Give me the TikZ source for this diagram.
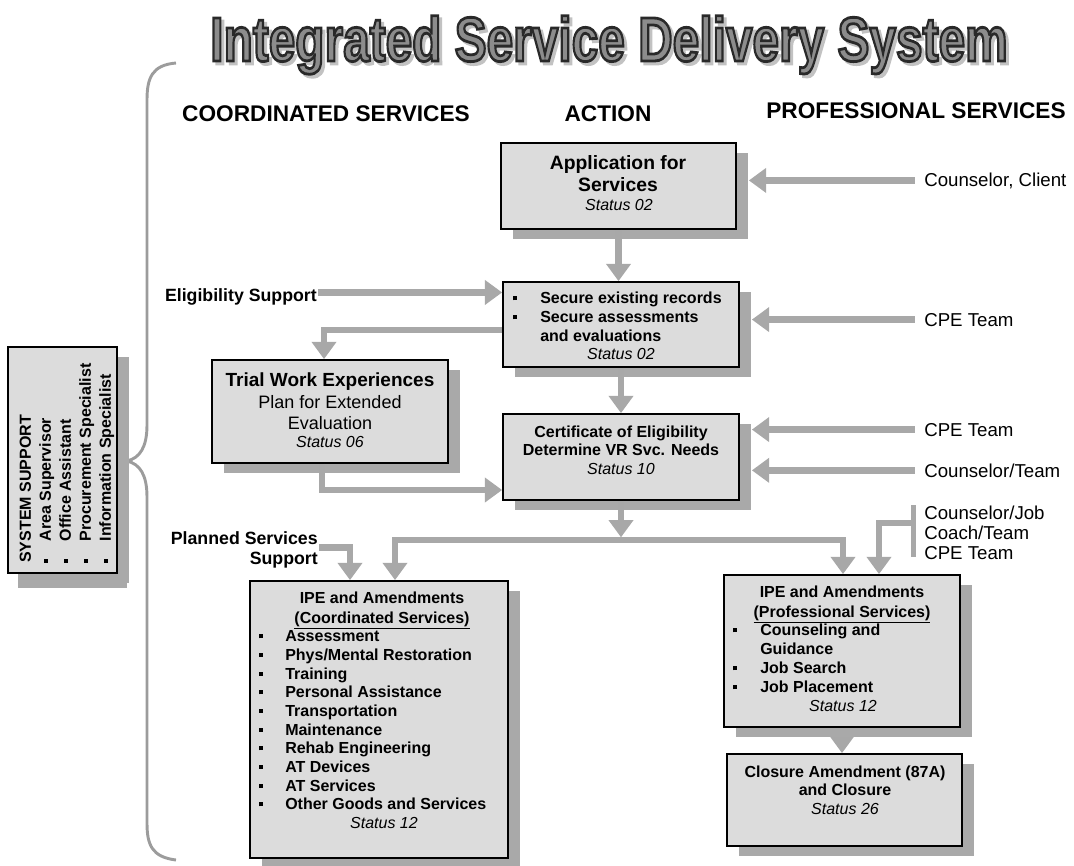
\documentclass[tikz,border=0pt]{standalone}
\usepackage{fontspec}
\usepackage{graphicx}
\setmainfont{Liberation Sans}
\newfontfamily\ttlfont[BoldFeatures={FakeBold=4.5}]{Liberation Sans}
\usetikzlibrary{arrows.meta,shadows}
\definecolor{boxfill}{HTML}{DCDCDC}
\definecolor{shadowgray}{HTML}{A9A9A9}
\definecolor{arrowgray}{HTML}{A8A8A8}
\definecolor{bracegray}{HTML}{9C9C9C}
\definecolor{titleshadow}{HTML}{C2C2C2}
\pgfdeclarelayer{bg}
\pgfsetlayers{bg,main}
\newcommand\sqb{\makebox[20.25pt][l]{\rule[2.6pt]{3pt}{3pt}}}
\newcommand\sqc{\makebox[19.5pt][l]{\rule[2.6pt]{3pt}{3pt}}}
\newcommand\sqs{\makebox[16pt][l]{\rule[2.6pt]{3pt}{3pt}}}
\newcommand\ttl{\resizebox{598pt}{34pt}{\ttlfont\bfseries Integrated Service Delivery System}}
\newcommand\ttloutlined{\special{pdf:bcolor [0.55] [0.16]}\ttl\special{pdf:ecolor}}
\begin{document}
\begin{tikzpicture}[x=0.75pt, y=-0.75pt, font=\fontsize{12}{14.25}\selectfont,
  box/.style={draw=black, line width=1.3pt, fill=boxfill, inner sep=0pt,
    drop shadow={shadow xshift=9pt, shadow yshift=-7.5pt, fill=shadowgray, opacity=1}},
  arr/.style={draw=arrowgray, line width=4.8pt, line join=miter, -{Triangle[width=18pt,length=13pt]}},
  txt/.style={inner sep=0pt, anchor=base},
  bt/.style={txt, font=\fontsize{12}{14.25}\selectfont\bfseries},
  st/.style={txt, font=\fontsize{12}{14.25}\selectfont\itshape},
  lbl/.style={inner sep=0pt, anchor=base west, font=\fontsize{14}{16}\selectfont},
  hd/.style={txt, font=\fontsize{17}{20}\selectfont\bfseries}
]
\useasboundingbox (0,0) rectangle (1074,865);

% ---------- title ----------
\node[txt, text=titleshadow] (ttlS) at (612,64) {\ttl};
\node[txt] (ttl) at (609,61) {\ttloutlined};

% ---------- headers ----------
\node[hd] (hCS) at (326,121) {COORDINATED SERVICES};
\node[hd] (hAC) at (608,121) {ACTION};
\node[hd] (hPS) at (916,118) {PROFESSIONAL SERVICES};

% ---------- brace ----------
\draw[draw=bracegray, line width=2.2pt] (176,63) .. controls (152,65) and (147,78) .. (147,100)
  -- (147,425) .. controls (147,447) and (140,458) .. (127,461)
  .. controls (140,464) and (147,475) .. (147,497)
  -- (147,823) .. controls (147,845) and (152,857) .. (176,860);

% ---------- boxes ----------
\node[box, minimum width=81.75pt, minimum height=169.5pt,
  drop shadow={shadow xshift=7.5pt, shadow yshift=-11pt, fill=shadowgray, opacity=1}] (sys) at (62.5,460) {};
\node[box, minimum width=176.25pt, minimum height=64.5pt] (app) at (618.5,186) {};
\node[box, minimum width=177pt, minimum height=63.75pt] (secure) at (621,324.5) {};
\node[box, minimum width=177pt, minimum height=77.25pt] (trial) at (330,411.5) {};
\node[box, minimum width=177pt, minimum height=64.5pt] (cert) at (621,457) {};
\node[box, minimum width=193.5pt, minimum height=207.75pt] (ipec) at (379,719.5) {};
\node[box, minimum width=177pt, minimum height=114pt] (ipep) at (842,651) {};
\node[box, minimum width=176.25pt, minimum height=69pt] (closure) at (844.5,800) {};

% ---------- system support text ----------
\node[rotate=90, anchor=north west, inner sep=0pt, font=\fontsize{12}{15}\selectfont\bfseries] (sysT) at (16.7,563)
  {\begin{tabular}{@{}l@{}}SYSTEM SUPPORT\\ \sqs Area Supervisor\\ \sqs Office Assistant\\ \sqs Procurement Specialist\\ \sqs Information Specialist\end{tabular}};

% ---------- application ----------
\node[txt, font=\fontsize{14.5}{16}\selectfont\bfseries] (appT1) at (618,169) {Application for};
\node[txt, font=\fontsize{14.5}{16}\selectfont\bfseries] (appT2) at (618,191) {Services};
\node[st] (appS) at (619,210.5) {Status 02};

% ---------- secure ----------
\node[anchor=north west, inner sep=0pt, font=\fontsize{12}{14.25}\selectfont\bfseries] (secL) at (513,290.2)
  {\begin{tabular}{@{}l@{}}\sqb Secure existing records\\ \sqb Secure assessments\\ \hspace*{20.25pt}and evaluations\end{tabular}};
\node[st] (secS) at (621,359.5) {Status 02};

% ---------- trial ----------
\node[txt, font=\fontsize{14.25}{16}\selectfont\bfseries] (trT1) at (330,386) {Trial Work Experiences};
\node[txt, font=\fontsize{13.5}{16}\selectfont] (trT2) at (330,408) {Plan for Extended};
\node[txt, font=\fontsize{13.5}{16}\selectfont] (trT3) at (330,429) {Evaluation};
\node[st] (trS) at (330,447.5) {Status 06};

% ---------- certificate ----------
\node[bt] (ceT1) at (621,437.5) {Certificate of Eligibility};
\node[bt] (ceT2) at (621,455.5) {Determine VR Svc. Needs};
\node[st] (ceS) at (621,474.5) {Status 10};

% ---------- IPE coordinated ----------
\node[bt] (icT1) at (382,603.5) {IPE and Amendments};
\node[bt] (icT2) at (382,623.5) {\underline{(Coordinated Services)}};
\node[anchor=north west, inner sep=0pt, font=\fontsize{12}{14}\selectfont\bfseries] (icL) at (259,628.4)
  {\begin{tabular}{@{}l@{}}\sqc Assessment\\ \sqc Phys/Mental Restoration\\ \sqc Training\\ \sqc Personal Assistance\\
   \sqc Transportation\\ \sqc Maintenance\\ \sqc Rehab Engineering\\ \sqc AT Devices\\ \sqc AT Services\\ \sqc Other Goods and Services\end{tabular}};
\node[st] (icS) at (384,828.5) {Status 12};

% ---------- IPE professional ----------
\node[bt] (ipT1) at (842,597.5) {IPE and Amendments};
\node[bt] (ipT2) at (842,617.5) {\underline{(Professional Services)}};
\node[anchor=north west, inner sep=0pt, font=\fontsize{12}{14.25}\selectfont\bfseries] (ipL) at (733,622.2)
  {\begin{tabular}{@{}l@{}}\sqb Counseling and\\ \hspace*{20.25pt}Guidance\\ \sqb Job Search\\ \sqb Job Placement\end{tabular}};
\node[st] (ipS) at (843,711.5) {Status 12};

% ---------- closure ----------
\node[bt] (clT1) at (845,777.5) {Closure Amendment (87A)};
\node[bt] (clT2) at (845,795.5) {and Closure};
\node[st] (clS) at (845,814.5) {Status 26};

% ---------- side labels ----------
\node[lbl] (lCC) at (924,186) {Counselor, Client};
\node[lbl] (lCPE1) at (924,326) {CPE Team};
\node[lbl] (lCPE2) at (924,436) {CPE Team};
\node[lbl] (lCT) at (924,477) {Counselor/Team};
\node[anchor=north west, inner sep=0pt, font=\fontsize{14}{15}\selectfont] (lCJ) at (924,505)
  {\begin{tabular}{@{}l@{}}Counselor/Job\\ Coach/Team\\ CPE Team\end{tabular}};
\node[txt, anchor=base east, font=\fontsize{13.3}{16}\selectfont\bfseries] (lES) at (317,301) {Eligibility Support};
\node[txt, anchor=base east, font=\fontsize{13.3}{16}\selectfont\bfseries] (lPS1) at (318,544) {Planned Services};
\node[txt, anchor=base east, font=\fontsize{13.3}{16}\selectfont\bfseries] (lPS2) at (318,564) {Support};

\coordinate (cjTop) at (913,505);
\coordinate (cjBot) at (913,557);
\coordinate (cjMid) at (913,523);
\coordinate (barL) at (395,540);
\coordinate (barR) at (843,540);

% ---------- connectors ----------
\begin{pgfonlayer}{bg}
\draw[arr] (ipep.south) -- (ipep.south |- closure.north);
\end{pgfonlayer}
\draw[arr] ([xshift=-7pt]lCC.west) -- ([xshift=9pt]lCC.west -| app.east);
\draw[arr] (app.south) -- (app.south |- secure.north);
\draw[arr] ([xshift=1pt,yshift=3pt]lES.east) -- ([yshift=3pt]lES.east -| secure.west);
\draw[arr] ([xshift=-7pt]lCPE1.west) -- ([xshift=9pt]lCPE1.west -| secure.east);
\draw[arr] ([yshift=-4pt]secure.west) -| ([xshift=-4.5pt]trial.north);
\draw[arr] (secure.south) -- (cert.north);
\draw[arr] ([xshift=-7pt]lCPE2.west) -- ([xshift=9pt]lCPE2.west -| cert.east);
\draw[arr] ([xshift=-7pt]lCT.west) -- ([xshift=9pt]lCT.west -| cert.east);
\draw[arr] ([xshift=-6pt]trial.south) |- ([yshift=-24.75pt]cert.west);
\draw[arr] (cert.south) -- ([yshift=2pt]cert.south |- barL);
\draw[arr, {Triangle[width=18pt,length=13pt]}-{Triangle[width=18pt,length=13pt]}]
  (ipec.north -| barL) -- (barL) -- (barR) -- (ipep.north -| barR);
\draw[arr] ([xshift=1pt,yshift=-2.25pt]lPS1.south east) -| ([xshift=-21.75pt]ipec.north);
\draw[draw=arrowgray, line width=3.75pt] (cjTop) -- (cjBot);
\draw[arr] (cjMid) -| ([xshift=27.75pt]ipep.north);
\end{tikzpicture}
\end{document}
